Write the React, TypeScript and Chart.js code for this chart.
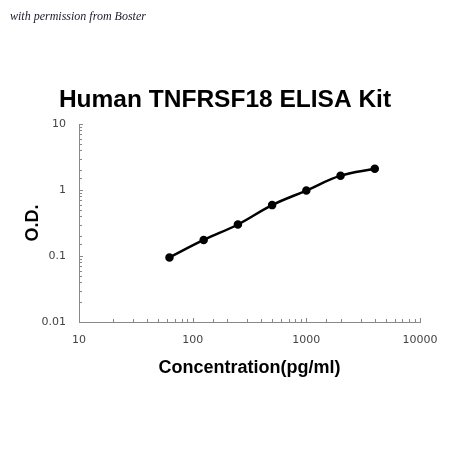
import React, { useEffect, useRef } from "react";
import { Chart, registerables } from "chart.js";

Chart.register(...registerables);

const concentrations = [62.5, 125, 250, 500, 1000, 2000, 4000];
const odValues = [0.095, 0.175, 0.3, 0.59, 0.98, 1.65, 2.1];
const chartTitle = "Human TNFRSF18 ELISA Kit";
const xTitle = "Concentration(pg/ml)";
const yTitle = "O.D.";
const watermark = "with permission from Boster";

const isPow10 = (v: number) => {
  const l = Math.log10(v);
  return Math.abs(l - Math.round(l)) < 1e-9;
};

const innerTicks = {
  id: "innerTicks",
  afterDraw(chart: any) {
    const ctx = chart.ctx;
    const xs = chart.scales.x;
    const ys = chart.scales.y;
    const area = chart.chartArea;
    ctx.save();
    ctx.strokeStyle = "#888";
    ctx.lineWidth = 1;
    ctx.beginPath();
    xs.ticks.forEach((t: any) => {
      const px = Math.round(xs.getPixelForValue(t.value)) + 0.5;
      const len = isPow10(t.value) ? 4 : 3;
      ctx.moveTo(px, area.bottom);
      ctx.lineTo(px, area.bottom - len);
    });
    ys.ticks.forEach((t: any) => {
      const py = Math.round(ys.getPixelForValue(t.value)) + 0.5;
      const len = isPow10(t.value) ? 4 : 3;
      ctx.moveTo(area.left, py);
      ctx.lineTo(area.left + len, py);
    });
    ctx.stroke();
    ctx.restore();
  },
};

export default function App() {
  const canvasRef = useRef<HTMLCanvasElement | null>(null);

  useEffect(() => {
    if (!canvasRef.current) return;
    const chart = new Chart(canvasRef.current, {
      type: "line",
      data: {
        datasets: [
          {
            data: concentrations.map((c, i) => ({ x: c, y: odValues[i] })),
            borderColor: "#000",
            backgroundColor: "#000",
            borderWidth: 2.5,
            pointRadius: 3,
            pointBackgroundColor: "#000",
            pointBorderColor: "#000",
            tension: 0.4,
          },
        ],
      },
      plugins: [innerTicks],
      options: {
        animation: false,
        responsive: false,
        maintainAspectRatio: false,
        layout: { padding: { top: 81, right: 0, bottom: 0, left: 0 } },
        plugins: {
          legend: { display: false },
          tooltip: { enabled: false },
          title: {
            display: true,
            text: chartTitle,
            color: "#000",
            font: { family: "'Liberation Sans', Arial, sans-serif", size: 24.5, weight: "bold", lineHeight: 1.2 },
            padding: { top: 4.5, bottom: 9.1 },
          },
        },
        scales: {
          x: {
            type: "logarithmic",
            min: 10,
            max: 10000,
            afterFit: (scale: any) => {
              scale.height = 128;
              scale.paddingRight = 30;
            },
            grid: { display: true, drawOnChartArea: false, drawTicks: false },
            border: { display: true, color: "#888", width: 1 },
            ticks: {
              autoSkip: false,
              maxRotation: 0,
              padding: 12,
              color: "#444",
              font: { family: "'DejaVu Sans', sans-serif", size: 11 },
              callback: (v: any) => (isPow10(Number(v)) ? String(Number(v)) : ""),
            },
            title: {
              display: true,
              text: xTitle,
              color: "#000",
              font: { family: "'Liberation Sans', Arial, sans-serif", size: 18, weight: "bold", lineHeight: 1.2 },
              padding: { top: 0, bottom: 71 },
            },
          },
          y: {
            type: "logarithmic",
            min: 0.01,
            max: 10,
            afterFit: (scale: any) => {
              scale.width = 79;
            },
            grid: { display: true, drawOnChartArea: false, drawTicks: false },
            border: { display: true, color: "#888", width: 1 },
            ticks: {
              autoSkip: false,
              padding: 13,
              color: "#444",
              font: { family: "'DejaVu Sans', sans-serif", size: 11 },
              callback: (v: any) => (isPow10(Number(v)) ? String(Number(v)) : ""),
            },
            title: {
              display: true,
              text: yTitle,
              color: "#000",
              font: { family: "'Liberation Sans', Arial, sans-serif", size: 18, weight: "bold", lineHeight: 1.2 },
              padding: { top: 22, bottom: 0 },
            },
          },
        },
      },
    } as any);
    return () => chart.destroy();
  }, []);

  return (
    <div style={{ position: "fixed", left: 0, top: 0, width: 450, height: 450, background: "#fff" }}>
      <canvas ref={canvasRef} width={450} height={450} style={{ width: 450, height: 450, display: "block" }} />
      <div
        style={{
          position: "absolute",
          left: 10,
          top: 8,
          fontFamily: "'Liberation Serif', serif",
          fontStyle: "italic",
          fontSize: 12,
          color: "#1a1a2a",
          whiteSpace: "nowrap",
          lineHeight: "16px",
        }}
      >
        {watermark}
      </div>
    </div>
  );
}
